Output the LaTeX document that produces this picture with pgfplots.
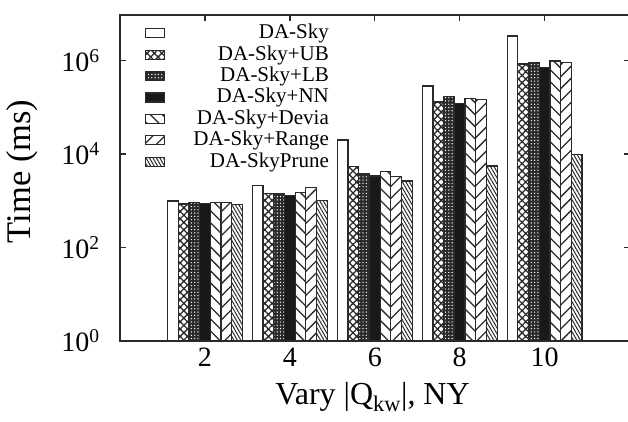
\documentclass[border=0pt]{standalone}
\usepackage{fontspec}
\setmainfont{Liberation Serif}
\usepackage{pgfplots}
\pgfplotsset{compat=1.18}
\usetikzlibrary{patterns.meta}
\definecolor{ink}{HTML}{2A2A2A}
\newcommand{\legfont}{\fontsize{21}{21}\selectfont}
\begin{document}
\begin{tikzpicture}
\useasboundingbox (-120pt,-80pt) rectangle (508pt,341pt);
\begin{axis}[
  at={(0,0)}, anchor=south west,
  scale only axis, width=509.5pt, height=326pt,
  xmin=0, xmax=12, ymode=log, ymin=1, ymax=9.5e6,
  ybar=0pt, bar width=10.7pt,
  xtick={2,4,6,8,10},
  ytick={1,100,10000,1000000},
  yticklabels={10\textsuperscript{0},10\textsuperscript{2},10\textsuperscript{4},10\textsuperscript{6}},
  yminorticks=false, minor y tick num=0,
  tick align=inside, major tick length=6pt,
  tick style={line width=1.4pt, ink},
  axis line style={line width=1.6pt, ink},
  /pgf/number format/assume math mode=true,
  xticklabel style={font=\fontsize{28}{28}\selectfont, inner sep=0pt, yshift=-7pt},
  yticklabel style={font=\fontsize{28}{28}\selectfont, inner sep=0pt, xshift=-20pt},
  xlabel={Vary |Q\textsubscript{kw}|, NY},
  ylabel={Time (ms)},
  every axis x label/.style={at={(axis description cs:0.4956,-0.196)}, anchor=base, font=\fontsize{32}{32}\selectfont},
  every axis y label/.style={at={(axis description cs:-0.192,0.52)}, anchor=center, rotate=90, font=\fontsize{34.5}{34.5}\selectfont},
  legend image code/.code={\draw[#1,line width=1.2pt] (0pt,-4.5pt) rectangle (19pt,4.5pt);},
  legend cell align=right,
  legend style={at={(axis description cs:0.049,0.977)}, anchor=north west, draw=none, fill=none,
    font=\legfont, row sep=0pt, column sep=28pt, inner sep=0pt,
    nodes={inner sep=0pt, text height=16pt, text depth=5.4pt, font=\legfont}},
]
\addplot[draw=ink, line width=1.2pt, fill=white] coordinates {(2,993) (4,2110) (6,20050) (8,287000) (10,3370000)};
\addlegendentry{DA-Sky}
\addplot[draw=ink, line width=1.2pt, fill=white, pattern={Hatch[angle=45,distance=5.2pt,line width=1.3pt]}, pattern color=ink] coordinates {(2,856) (4,1450) (6,5380) (8,130600) (10,849000)};
\addlegendentry{DA-Sky+UB}
\addplot[draw=ink, line width=1.2pt, fill=ink, postaction={pattern={Dots[distance=3.3pt,radius=0.7pt]}, pattern color=white}] coordinates {(2,912) (4,1450) (6,3890) (8,169000) (10,923000)};
\addlegendentry{DA-Sky+LB}
\addplot[draw=ink, line width=1.2pt, fill=black!90] coordinates {(2,885) (4,1290) (6,3400) (8,122500) (10,708000)};
\addlegendentry{DA-Sky+NN}
\addplot[draw=ink, line width=1.2pt, pattern={Lines[angle=-45,distance=8.5pt,line width=1.3pt]}, pattern color=ink] coordinates {(2,912) (4,1494) (6,4200) (8,153500) (10,984000)};
\addlegendentry{DA-Sky+Devia}
\addplot[draw=ink, line width=1.2pt, pattern={Lines[angle=45,distance=8.5pt,line width=1.3pt]}, pattern color=ink] coordinates {(2,912) (4,1950) (6,3290) (8,149000) (10,906000)};
\addlegendentry{DA-Sky+Range}
\addplot[draw=ink, line width=1.2pt, pattern={Lines[angle=-60,distance=3pt,line width=1pt]}, pattern color=ink] coordinates {(2,843) (4,1007) (6,2660) (8,5570) (10,9910)};
\addlegendentry{DA-SkyPrune}
\end{axis}
\end{tikzpicture}
\end{document}
